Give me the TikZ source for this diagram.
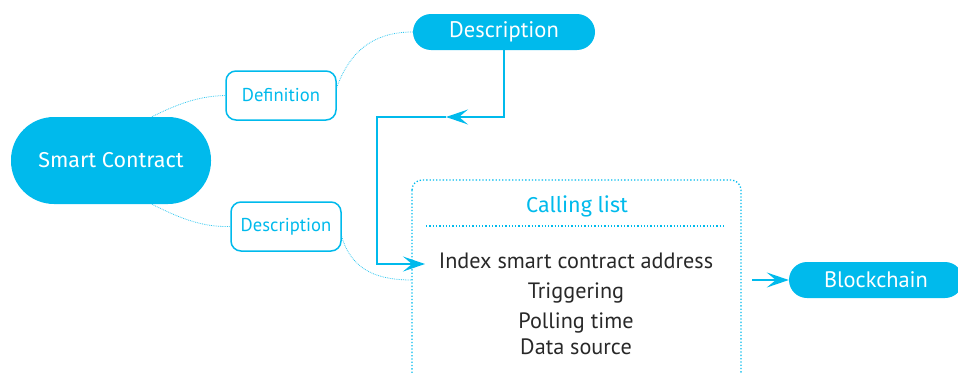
\documentclass[tikz,border=0pt]{standalone}
\usepackage{fontspec}
\setmainfont{PT Sans}
\newfontfamily\roundfont{Fira Sans}
\usetikzlibrary{calc,positioning}
\usetikzlibrary{arrows.meta}
\definecolor{cCyan}{RGB}{0,186,236}
\definecolor{cInk}{RGB}{40,40,40}
\tikzset{
  pill/.style={fill=cCyan,text=white,rounded corners=#1,inner sep=0pt},
  subbox/.style={draw=cCyan,line width=1.5pt,text=cCyan,rounded corners=10pt,
    minimum width=110pt,minimum height=49pt,inner sep=0pt,font=\fontsize{18.6}{20}\selectfont},
  branch/.style={cCyan!80,densely dotted,line width=0.8pt},
  flow/.style={cCyan,line width=1.6pt},
  tipA/.style={-{Stealth[length=22pt,width=15pt,inset=9pt]}},
  listline/.style={text=cInk,anchor=base,font=\fontsize{22.2}{24}\selectfont}
}
\begin{document}
\begin{tikzpicture}[x=1pt,y=-1pt]
\useasboundingbox (0,0) rectangle (958,372);
\clip (0,0) rectangle (958,372);
%nodes
\node[pill=43pt,minimum width=200pt,minimum height=87pt,
  font=\roundfont\fontsize{21.5}{23}\selectfont] (nSmart) at (111,160.5) {Smart Contract};
\node[subbox] (nDef) at (281,95.5) {Definition};
\node[subbox] (nDescA) at (286,226.5) {Description};
\node[pill=18pt,minimum width=182pt,minimum height=36pt,
  font=\fontsize{22.5}{24}\selectfont] (nDescB) at (504,32) {Description};
\node[pill=18pt,minimum width=174pt,minimum height=36pt,
  font=\fontsize{22.4}{24}\selectfont] (nChain) at (876,280) {Blockchain};
%calling list box
\draw[cCyan,dotted,line width=1.3pt,rounded corners=10pt] (412,180) rectangle (741,400);
\node[text=cCyan,font=\roundfont\fontsize{21.5}{23}\selectfont] (nList) at (577,206) {Calling list};
\draw[cCyan,dotted,line width=1.3pt] (426,226) -- (725,226);
\foreach \n/\y/\t in
{nItemA/268/Index smart contract address,
    nItemB/298/Triggering,
    nItemC/328/Polling time,
    nItemD/354/Data source
}
{
    \node[listline] (\n) at (576,\y) {\t};
};
%branches
\draw[branch] (nSmart.north) ++(41,0) .. controls (185,100) and (205,96) .. (nDef.west);
\draw[branch] (nSmart.south) ++(41,0) .. controls (185,221) and (205,227) .. (nDescA.west);
\draw[branch] (nDef.east) ++(0,-8) .. controls (352,45) and (380,32) .. (nDescB.west);
\draw[branch] (nDescA.east) ++(0,10) .. controls (352,272) and (380,280) .. (412,280);
%flow arrows
\coordinate (cTurnA) at (377,117);
\coordinate (cTip) at (446,117);
\coordinate (cTurnB) at (377,264);
\coordinate (cIn) at (425,264);
\draw[flow,tipA] (nDescB.south) |- (cTip);
\draw[flow,tipA] (cTip) -- (cTurnA) -- (cTurnB) -- (cIn);
\draw[flow,tipA] (752,280) -- (nChain.west);
\end{tikzpicture}
\end{document}
